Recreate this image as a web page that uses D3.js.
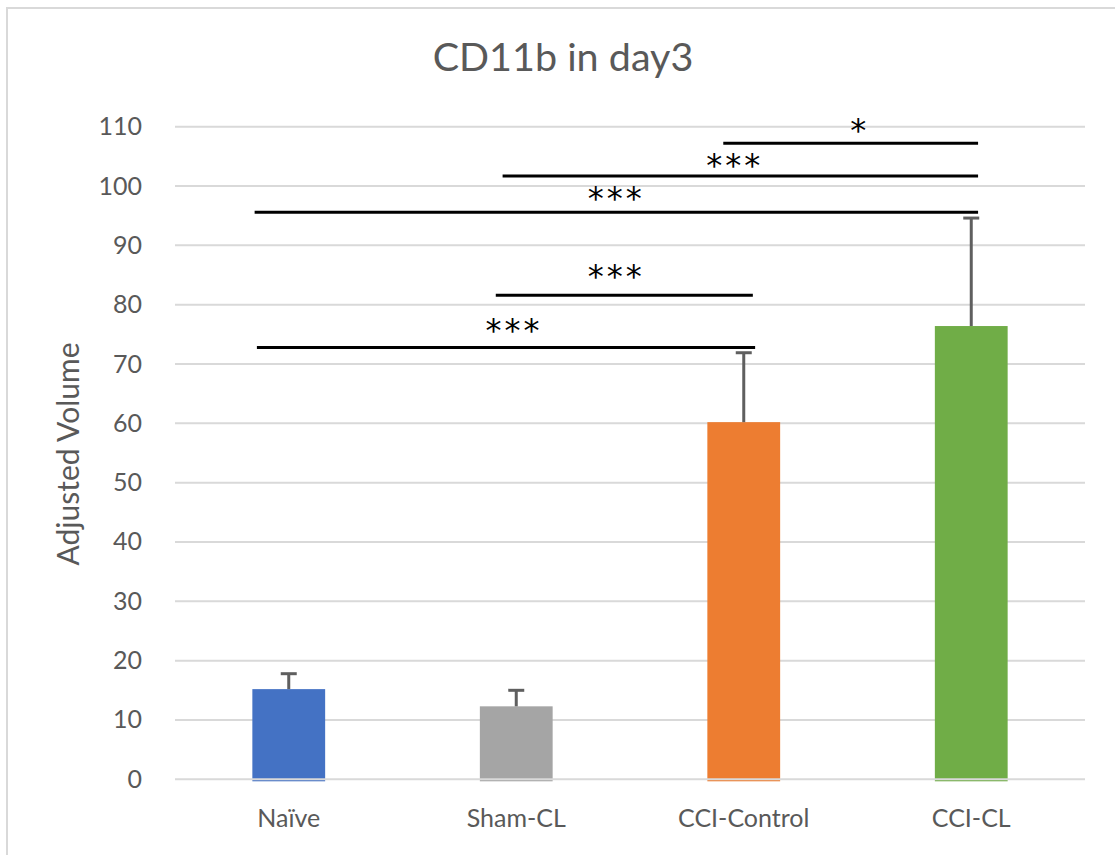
<!DOCTYPE html>
<html>
<head>
<meta charset="utf-8">
<script src="https://cdn.jsdelivr.net/npm/d3@7"></script>
<style>
  html, body { margin: 0; padding: 0; background: #fff; }
  svg { display: block; }
</style>
</head>
<body>
<svg id="chart" width="1115" height="855"></svg>
<script>
// ---- data ----
const categories = ["Naïve", "Sham-CL", "CCI-Control", "CCI-CL"];
const values = [15.2, 12.3, 60.2, 76.4];
const errors = [2.6, 2.7, 11.7, 18.2];
const colors = ["#4472C4", "#A5A5A5", "#ED7D31", "#70AD47"];
const yTicks = [0, 10, 20, 30, 40, 50, 60, 70, 80, 90, 100, 110];
const title = "CD11b in day3";
const yTitle = "Adjusted Volume";
// significance brackets (x in category-index units, y in data units)
const sigFrom = [1.91, 0.94, -0.15, 0.91, -0.14];
const sigTo = [3.03, 3.03, 3.03, 2.04, 2.05];
const sigY = [107.2, 101.7, 95.6, 81.6, 72.8];
const sigLabel = ["*", "***", "***", "***", "***"];
const sigLabelX = [2.51, 1.96, 1.44, 1.44, 0.99];
const sigLabelY = [110.3, 104.4, 98.9, 85.6, 76.6];

// ---- layout ----
const svg = d3.select("#chart");
const plot = { left: 175, right: 1085, top: 126.7, bottom: 779.3 };
const textColor = "#595959";
const font = "Lato, 'Open Sans', sans-serif";

const x = d3.scaleBand().domain(categories)
  .range([plot.left, plot.right]).paddingInner(0.68).paddingOuter(0.34);
const y = d3.scaleLinear().domain([0, 110]).range([plot.bottom, plot.top]);
const xi = d3.scaleLinear().domain([0, categories.length - 1])
  .range([x(categories[0]) + x.bandwidth() / 2, x(categories[categories.length - 1]) + x.bandwidth() / 2]);

// frame
svg.append("rect").attr("x", 7).attr("y", 8).attr("width", 1130).attr("height", 870)
  .attr("fill", "none").attr("stroke", "#d9d9d9").attr("stroke-width", 2);

// title
svg.append("text").attr("x", 563).attr("y", 71).attr("text-anchor", "middle")
  .attr("font-family", font).attr("font-size", 39.5).attr("fill", textColor).text(title);

// gridlines (except 0)
svg.append("g").selectAll("line").data(yTicks.filter(d => d !== 0)).join("line")
  .attr("x1", plot.left).attr("x2", plot.right)
  .attr("y1", d => y(d)).attr("y2", d => y(d))
  .attr("stroke", "#d9d9d9").attr("stroke-width", 2);

// y axis labels
const yAxis = svg.append("g").attr("transform", `translate(${plot.left},0)`)
  .call(d3.axisLeft(y).tickValues(yTicks).tickSize(0).tickPadding(33));
yAxis.select(".domain").remove();
yAxis.selectAll("text").attr("font-family", font).attr("font-size", 25).attr("fill", textColor);

// y axis title
svg.append("text").attr("transform", `translate(79,454) rotate(-90)`)
  .attr("text-anchor", "middle").attr("font-family", font).attr("font-size", 30)
  .attr("fill", textColor).text(yTitle);

// bars
svg.append("g").selectAll("rect").data(categories).join("rect")
  .attr("x", d => x(d)).attr("width", x.bandwidth())
  .attr("y", (d, i) => y(values[i])).attr("height", (d, i) => y(0) - y(values[i]) + 2)
  .attr("fill", (d, i) => colors[i]);

// zero line (drawn over bars)
svg.append("line").attr("x1", plot.left).attr("x2", plot.right)
  .attr("y1", y(0)).attr("y2", y(0)).attr("stroke", "#d9d9d9").attr("stroke-width", 2);

// error bars (plus only)
const eb = svg.append("g").attr("stroke", "#5f5f5f").attr("stroke-width", 3);
categories.forEach((c, i) => {
  const cx = x(c) + x.bandwidth() / 2;
  eb.append("line").attr("x1", cx).attr("x2", cx)
    .attr("y1", y(values[i])).attr("y2", y(values[i] + errors[i]));
  eb.append("line").attr("x1", cx - 8).attr("x2", cx + 8)
    .attr("y1", y(values[i] + errors[i])).attr("y2", y(values[i] + errors[i]));
});

// x axis labels
const xAxis = svg.append("g").attr("transform", `translate(0,${plot.bottom})`)
  .call(d3.axisBottom(x).tickSize(0).tickPadding(30));
xAxis.select(".domain").remove();
xAxis.selectAll("text").attr("font-family", font).attr("font-size", 25).attr("fill", textColor);

// significance brackets
const sg = svg.append("g");
sigY.forEach((v, i) => {
  sg.append("line").attr("x1", xi(sigFrom[i])).attr("x2", xi(sigTo[i]))
    .attr("y1", y(v)).attr("y2", y(v)).attr("stroke", "#000").attr("stroke-width", 3);
  sg.append("text").attr("x", xi(sigLabelX[i])).attr("y", y(sigLabelY[i]) + 16)
    .attr("text-anchor", "middle").attr("font-family", "'DejaVu Sans', sans-serif")
    .attr("font-size", 32).attr("letter-spacing", 3).attr("fill", "#000")
    .text(sigLabel[i]);
});
</script>
</body>
</html>
